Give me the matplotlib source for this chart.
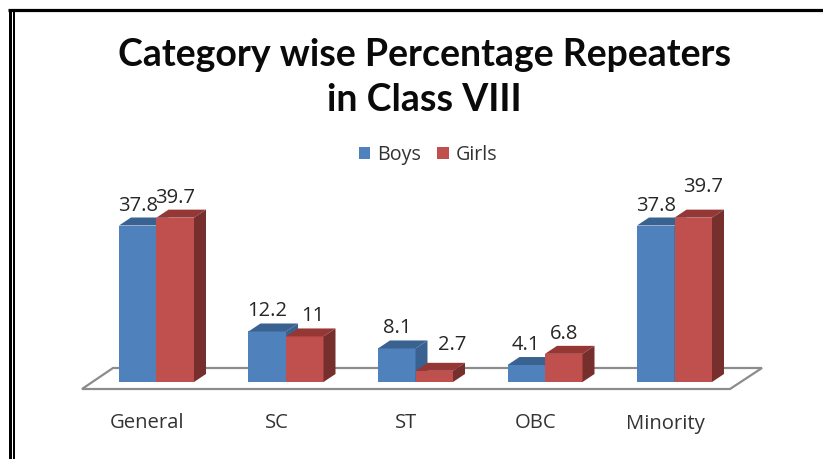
import matplotlib
matplotlib.use('Agg')
from matplotlib import pyplot as plt
from matplotlib.patches import Polygon, Patch

categories = ['General', 'SC', 'ST', 'OBC', 'Minority']
boys = [37.8, 12.2, 8.1, 4.1, 37.8]
girls = [39.7, 11, 2.7, 6.8, 39.7]
boys_labels = ['37.8', '12.2', '8.1', '4.1', '37.8']
girls_labels = ['39.7', '11', '2.7', '6.8', '39.7']

# label nudges in pixels, the original labels are not quite centred
boys_nudge = [(0, 0), (0, 0), (0, 0), (0, 0), (0, 0)]
girls_nudge = [(0, 0), (8, 0), (18, 6), (0, 0), (10, 11)]

W, H = 823, 459
PX_X = 129.5      # pixels per category
PX_Y = 4.14       # pixels per percent
X0 = 156.5        # pixel of first category
Y0 = 382          # pixel of value 0
BAR = 37.5 / PX_X
DX = 12 / PX_X
DY = 8 / PX_Y

plt.rcParams['font.family'] = ['Lato', 'DejaVu Sans']
fig = plt.figure(figsize=(W / 100, H / 100), dpi=100, facecolor='white')
ax = fig.add_axes([0, 0, 1, 1])
ax.set_xlim(-X0 / PX_X, (W - X0) / PX_X)
ax.set_ylim((Y0 - H) / PX_Y, Y0 / PX_Y)
ax.axis('off')


def px(x, y):
    return (x - X0) / PX_X, (Y0 - y) / PX_Y


# floor of the chart
floor = [px(82, 389), px(113, 368), px(762, 368), px(730, 389)]
ax.add_patch(Polygon(floor, closed=True, fc='white', ec='#8c8c8c', lw=1.6, zorder=1))


def bar3d(x, v, front, top, side, z):
    ax.bar(x, v, BAR, align='edge', color=front, zorder=z)
    ax.add_patch(Polygon([(x, v), (x + DX, v + DY), (x + BAR + DX, v + DY), (x + BAR, v)],
                         closed=True, fc=top, ec='none', zorder=z))
    ax.add_patch(Polygon([(x + BAR, 0), (x + BAR + DX, DY), (x + BAR + DX, v + DY), (x + BAR, v)],
                         closed=True, fc=side, ec='none', zorder=z))


label_font = 'Open Sans'
for i in range(len(categories)):
    bar3d(i - BAR, boys[i], '#4f81bd', '#3a6291', '#3a6291', 2 + i * 2)
    bar3d(i, girls[i], '#c0504d', '#953735', '#772f2d', 3 + i * 2)

    ax.text(i - BAR / 2 + boys_nudge[i][0] / PX_X, boys[i] + (20 + boys_nudge[i][1]) / PX_Y,
            boys_labels[i], ha='center', va='center', fontsize=14.5, family=label_font,
            color='#262626', zorder=20)
    ax.text(i + BAR / 2 + girls_nudge[i][0] / PX_X, girls[i] + (20 + girls_nudge[i][1]) / PX_Y,
            girls_labels[i], ha='center', va='center', fontsize=14.5, family=label_font,
            color='#262626', zorder=20)
    ax.text(i - 9.5 / PX_X, -46.5 / PX_Y, categories[i], ha='center', va='baseline',
            fontsize=14.6, family=label_font, color='#333333', zorder=20)

# title
fig.text(424.5 / W, 1 - 55 / H, 'Category wise Percentage Repeaters', ha='center', va='center',
         fontsize=27, fontweight='bold', color='#0a0a0a')
fig.text(424.5 / W, 1 - 100 / H, 'in Class VIII', ha='center', va='center',
         fontsize=27, fontweight='bold', color='#0a0a0a')

# legend
handles = [Patch(fc='#4f81bd', label='Boys'), Patch(fc='#c0504d', label='Girls')]
fig.legend(handles=handles, loc='center', bbox_to_anchor=(428 / W, 1 - 155 / H), ncol=2,
           frameon=False, prop={'family': label_font, 'size': 14.2}, handlelength=0.6,
           handleheight=0.5, handletextpad=0.35, columnspacing=0.8, labelcolor='#333333')

# window border
border = [((8, 10), (W, 10), 3.2), ((9.5, 10), (9.5, H), 3.0), ((14, 12), (14, H), 2.0)]
for a, b, w in border:
    fig.add_artist(plt.Line2D([a[0] / W, b[0] / W], [1 - a[1] / H, 1 - b[1] / H],
                              color='black', lw=w * 0.72, solid_capstyle='butt'))

plt.savefig('out.png', dpi=100)
